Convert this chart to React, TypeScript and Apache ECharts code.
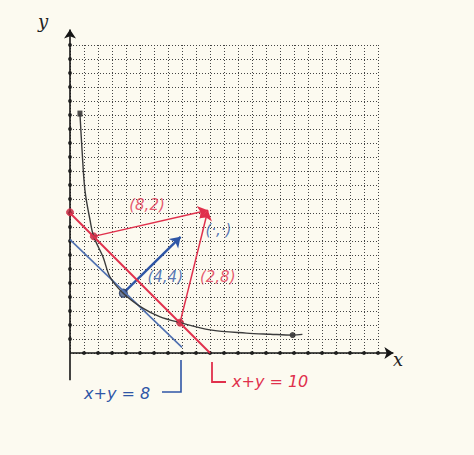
import React, { useEffect, useRef } from "react";
import * as echarts from "echarts";

// ---- data (units of the grid) ----
const axisTicks = [1, 2, 3, 4, 5, 6, 7, 8, 9, 10, 11, 12, 13, 14, 15, 16, 17, 18, 19, 20, 21, 22];
const curvePoints: [number, number][] = [
  [0.71, 17.1], [0.86, 14.5], [1.07, 11.6], [1.43, 9.5], [1.7, 8.3], [2.36, 6.86],
  [2.86, 5.43], [3.8, 4.27], [5.2, 3.2], [6.4, 2.6], [7.86, 2.17], [10.0, 1.65],
  [12.6, 1.42], [14.3, 1.34], [15.9, 1.28], [16.6, 1.33],
];
const lineX10: [number, number][] = [[0, 10], [10, 0]];
const lineX8: [number, number][] = [[0, 8.1], [8, 0.4]];
const pointA: [number, number] = [1.7, 8.33];   // red point on x+y=10 (upper)
const pointB: [number, number] = [3.81, 4.27];  // blue point on x+y=8
const pointC: [number, number] = [7.86, 2.17];  // red point on x+y=10 (lower)
const redTip: [number, number] = [9.85, 10.2];
const blueTip: [number, number] = [7.9, 8.3];
const curveEnd: [number, number] = [15.9, 1.28];
const curveStart: [number, number] = [0.71, 17.1];
const redStart: [number, number] = [0, 10.05];
const redLabels = [
  { text: "(8,2)", at: [5.5, 10.6] },
  { text: "(2,8)", at: [10.55, 5.4] },
];
const blueLabels = [
  { text: "(4,4)", at: [6.8, 5.4] },
  { text: "(·,·)", at: [10.6, 8.8] },
];

const RED = "#e0304c";
const DARKRED = "#b5233a";
const BLUE = "#2f56a6";
const LIGHTBLUE = "#4f70b0";
const BLACK = "#3b3b3b";

export default function App() {
  const ref = useRef<HTMLDivElement>(null);
  useEffect(() => {
    if (!ref.current) return;
    const chart = echarts.init(ref.current, null, { renderer: "svg" });
    const hand = "'DejaVu Sans', sans-serif";
    const axis = () => ({
      type: "value",
      min: 0,
      max: 22,
      interval: 1,
      axisLine: { show: false },
      axisTick: { show: false },
      axisLabel: { show: false },
      splitLine: { show: true, lineStyle: { color: "#444", width: 1, type: [1, 2] } },
    });
    chart.setOption({
      animation: false,
      backgroundColor: "#fcfaf0",
      grid: { left: 70, top: 45, width: 308, height: 308 },
      xAxis: axis(),
      yAxis: axis(),
      series: [
        {
          type: "lines",
          coordinateSystem: "cartesian2d",
          clip: false,
          silent: true,
          symbol: ["none", "arrow"],
          symbolSize: 9,
          lineStyle: { color: "#151515", width: 1.6, opacity: 1 },
          data: [
            { coords: [[0, 0], [23.1, 0]] },
            { coords: [[0, -1.95], [0, 23.1]] },
          ],
        },
        {
          type: "scatter",
          symbolSize: 4,
          itemStyle: { color: "#151515" },
          clip: false,
          data: [...axisTicks.map((t) => [t, 0]), ...axisTicks.map((t) => [0, t])],
        },
        {
          type: "line",
          data: lineX8,
          symbol: "none",
          lineStyle: { color: LIGHTBLUE, width: 1.6 },
        },
        {
          type: "line",
          data: curvePoints,
          smooth: 0.35,
          symbol: "none",
          lineStyle: { color: BLACK, width: 1.4 },
        },
        {
          type: "line",
          data: lineX10,
          symbol: "none",
          lineStyle: { color: RED, width: 2 },
        },
        {
          type: "lines",
          coordinateSystem: "cartesian2d",
          clip: false,
          symbol: ["none", "arrow"],
          symbolSize: 10,
          lineStyle: { color: RED, width: 1.5, opacity: 1 },
          data: [
            { coords: [pointA, redTip] },
            { coords: [pointC, redTip] },
          ],
        },
        {
          type: "lines",
          coordinateSystem: "cartesian2d",
          clip: false,
          symbol: ["none", "arrow"],
          symbolSize: 10,
          lineStyle: { color: BLUE, width: 2.4, opacity: 1 },
          data: [{ coords: [pointB, blueTip] }],
        },
        {
          type: "scatter",
          symbolSize: 7,
          itemStyle: { color: DARKRED, borderColor: RED, borderWidth: 1 },
          data: [pointA, pointC, redStart],
        },
        {
          type: "scatter",
          symbolSize: 8,
          itemStyle: { color: "#4a5f8a", borderColor: "#1f2f55", borderWidth: 1.2 },
          data: [pointB],
        },
        {
          type: "scatter",
          symbolSize: 6,
          itemStyle: { color: "#222" },
          data: [curveEnd],
        },
        {
          type: "scatter",
          symbol: "rect",
          symbolSize: [5, 6],
          itemStyle: { color: "#222" },
          data: [curveStart],
        },
        {
          type: "scatter",
          symbolSize: 0,
          silent: true,
          label: {
            show: true,
            position: "inside",
            formatter: (p: any) => redLabels[p.dataIndex].text,
            color: RED,
            fontSize: 15,
            fontStyle: "italic",
            fontFamily: hand,
          },
          data: redLabels.map((l) => l.at),
        },
        {
          type: "scatter",
          symbolSize: 0,
          silent: true,
          label: {
            show: true,
            position: "inside",
            formatter: (p: any) => blueLabels[p.dataIndex].text,
            color: BLUE,
            fontSize: 15,
            fontStyle: "italic",
            fontFamily: hand,
          },
          data: blueLabels.map((l) => l.at),
        },
      ],
      graphic: [
        {
          type: "text",
          left: 38,
          top: 12,
          style: { text: "y", fontSize: 18, fontStyle: "italic", fontFamily: "'DejaVu Serif', serif", fill: "#222" },
        },
        {
          type: "text",
          left: 393,
          top: 350,
          style: { text: "x", fontSize: 18, fontStyle: "italic", fontFamily: "'DejaVu Serif', serif", fill: "#222" },
        },
        {
          type: "text",
          left: 84,
          top: 385,
          style: { text: "x+y = 8", fontSize: 16, fontStyle: "italic", fontFamily: hand, fill: BLUE },
        },
        {
          type: "polyline",
          shape: { points: [[162, 392], [181, 392], [181, 360]] },
          style: { stroke: BLUE, lineWidth: 1.6, fill: "none" },
        },
        {
          type: "polyline",
          shape: { points: [[212, 362], [212, 382], [226, 382]] },
          style: { stroke: RED, lineWidth: 1.8, fill: "none" },
        },
        {
          type: "text",
          left: 232,
          top: 373,
          style: { text: "x+y = 10", fontSize: 16, fontStyle: "italic", fontFamily: hand, fill: RED },
        },
      ],
    });
    return () => chart.dispose();
  }, []);
  return (
    <div
      ref={ref}
      style={{ position: "absolute", left: 0, top: 0, width: 474, height: 455 }}
    />
  );
}
